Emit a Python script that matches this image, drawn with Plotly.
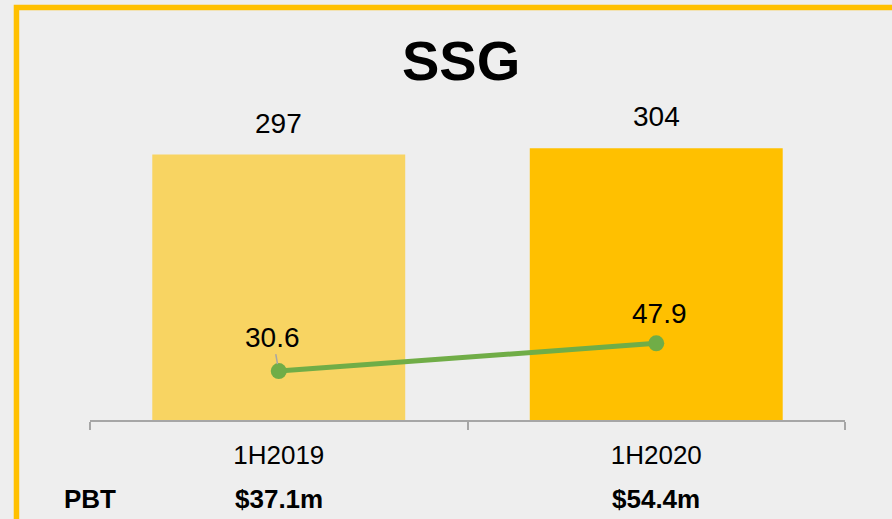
import plotly.graph_objects as go

# Datos del gráfico
periodos = ['1H2019', '1H2020']
ingresos = [297, 304]
margen = [30.6, 47.9]
pbt = ['$37.1m', '$54.4m']
colores_barras = ['#F8D462', '#FFC000']

fuente = 'Arial, Liberation Sans, sans-serif'

fig = go.Figure()

# Barras de ingresos
fig.add_trace(go.Bar(x=periodos, y=ingresos, marker_color=colores_barras,
                     marker_line_width=0, width=0.67, hoverinfo='skip'))

# Línea en el eje secundario
fig.add_trace(go.Scatter(x=periodos, y=margen, yaxis='y2', mode='lines+markers',
                         line=dict(color='#70AD47', width=5),
                         marker=dict(color='#70AD47', size=16), hoverinfo='skip'))

anotaciones = []
# Etiquetas de las barras
for p, v in zip(periodos, ingresos):
    anotaciones.append(dict(x=p, y=v, xref='x', yref='y', text=str(v), showarrow=False,
                            yanchor='bottom', yshift=14, font=dict(size=28, color='#000000')))

# Etiquetas de la línea (la primera con línea guía gris)
anotaciones.append(dict(x=periodos[0], y=margen[0], xref='x', yref='y2', text=str(margen[0]),
                        showarrow=True, arrowhead=0, arrowwidth=1.5, arrowcolor='#A6A6A6',
                        ax=-6, ay=-34, standoff=7, font=dict(size=28, color='#000000')))
anotaciones.append(dict(x=periodos[1], y=margen[1], xref='x', yref='y2', text=str(margen[1]),
                        showarrow=False, xshift=3, yshift=30, font=dict(size=28, color='#000000')))

# Fila de PBT
anotaciones.append(dict(x=0, y=-0.247, xref='paper', yref='paper', text='<b>PBT</b>',
                        xanchor='center', yanchor='middle', showarrow=False,
                        font=dict(size=26, color='#000000')))
for p, t in zip(periodos, pbt):
    anotaciones.append(dict(x=p, y=-0.247, xref='x', yref='paper', text='<b>' + t + '</b>',
                            xanchor='center', yanchor='middle', showarrow=False,
                            font=dict(size=26, color='#000000')))

fig.update_layout(
    width=892, height=519,
    margin=dict(l=90, r=47, t=100, b=99),
    paper_bgcolor='#EEEEEE',
    plot_bgcolor='rgba(0,0,0,0)',
    showlegend=False,
    font=dict(family=fuente, color='#000000'),
    title=dict(text='<b>SSG</b>', x=0.517, xanchor='center', y=0.884, yanchor='middle',
               font=dict(size=56, color='#000000', family=fuente)),
    xaxis=dict(type='category', range=[-0.5, 1.5], showgrid=False, showline=True,
               linecolor='#A6A6A6', linewidth=1.5, ticks='outside', tickson='boundaries',
               ticklen=8, tickcolor='#A6A6A6', tickwidth=1.5,
               tickfont=dict(size=26, color='#000000'), ticklabelstandoff=11),
    yaxis=dict(range=[0, 358], visible=False, showgrid=False),
    yaxis2=dict(range=[0, 200], visible=False, overlaying='y', showgrid=False),
    annotations=anotaciones,
    shapes=[dict(type='rect', xref='paper', yref='paper', x0=-0.0974, x1=1.2, y0=-0.6, y1=1.289,
                 line=dict(color='#FFC000', width=5.5), layer='below')],
)

# Quitar el margen por defecto del body para que la figura empiece en (0, 0)
fig.write_html('out.html', config={'displayModeBar': False},
               post_script="document.body.style.margin='0';document.body.style.overflow='hidden';")
